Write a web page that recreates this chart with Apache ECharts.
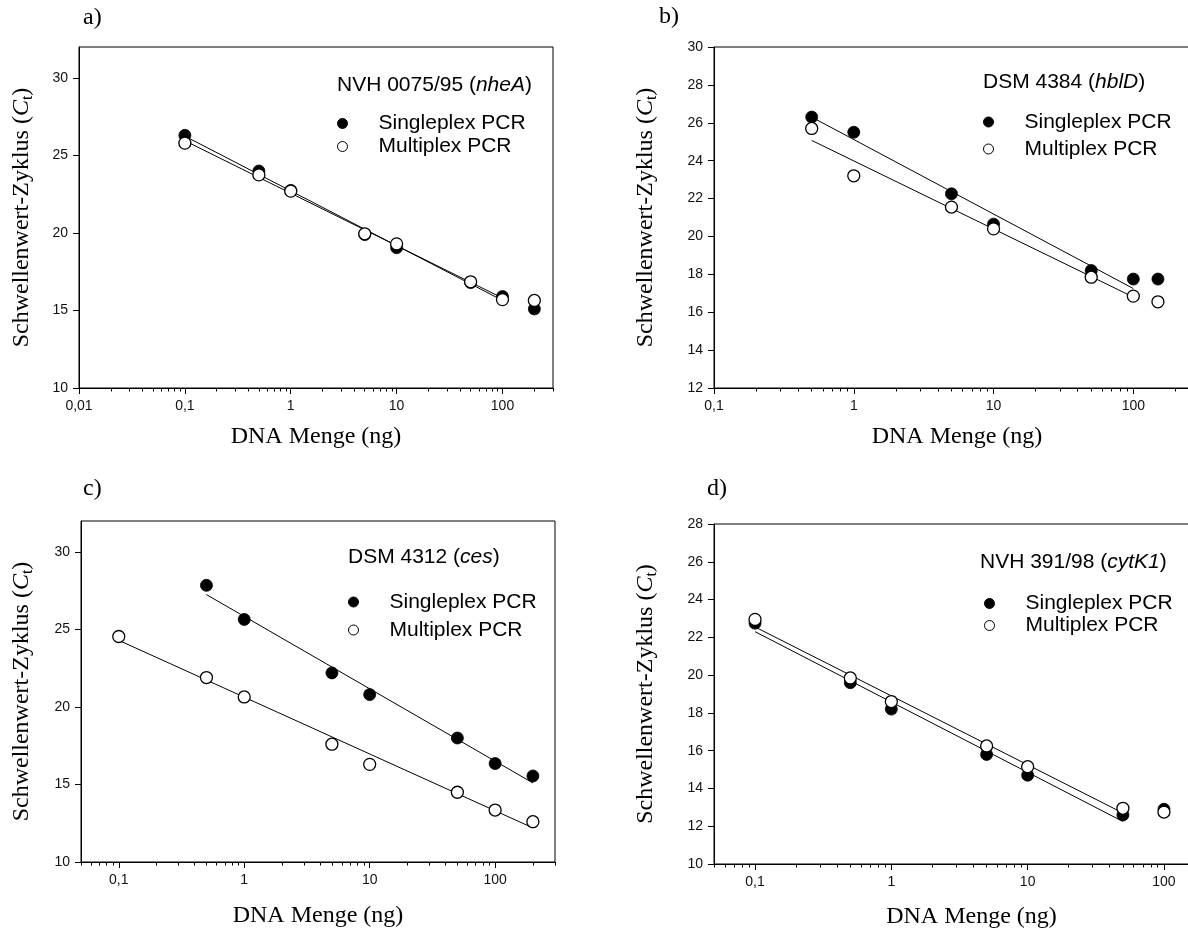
<!DOCTYPE html>
<html>
<head>
<meta charset="utf-8">
<script src="https://cdn.jsdelivr.net/npm/echarts@6/dist/echarts.min.js"></script>
<style>
  html, body { margin: 0; padding: 0; background: #fff; }
  #chart { width: 1188px; height: 933px; }
</style>
</head>
<body>
<div id="chart"></div>
<script>
// ---- Panel a) NVH 0075/95 (nheA) ----
const doseA    = [0.1, 0.5, 1, 5, 10, 50, 100, 200];
const singleA  = [26.3, 24.0, 22.75, 19.9, 19.05, 16.8, 15.9, 15.1];
const multiA   = [25.8, 23.75, 22.7, 19.95, 19.3, 16.85, 15.7, 15.65];
const fitDoseA = [0.1, 100];
const fitSingleA = [26.25, 15.65];
const fitMultiA  = [25.95, 15.8];
const xTicksA = [0.01, 0.1, 1, 10, 100];
const yTicksA = [10, 15, 20, 25, 30];

// ---- Panel b) DSM 4384 (hblD) ----
const doseB    = [0.5, 1, 5, 10, 50, 100, 150];
const singleB  = [26.3, 25.5, 22.25, 20.65, 18.2, 17.75, 17.75];
const multiB   = [25.7, 23.2, 21.55, 20.4, 17.85, 16.85, 16.55];
const fitDoseB = [0.5, 100];
const fitSingleB = [26.3, 17.25];
const fitMultiB  = [25.07, 16.8];
const xTicksB = [0.1, 1, 10, 100];
const yTicksB = [12, 14, 16, 18, 20, 22, 24, 26, 28, 30];

// ---- Panel c) DSM 4312 (ces) ----
const doseC    = [0.1, 0.5, 1, 5, 10, 50, 100, 200];
const singleC  = [null, 27.85, 25.65, 22.2, 20.8, 18.0, 16.35, 15.55];
const multiC   = [24.55, 21.9, 20.65, 17.6, 16.3, 14.5, 13.35, 12.6];
const fitDoseSingleC = [0.5, 200];
const fitSingleC = [27.25, 15.1];
const fitDoseMultiC = [0.1, 200];
const fitMultiC  = [24.3, 12.2];
const xTicksC = [0.1, 1, 10, 100];
const yTicksC = [10, 15, 20, 25, 30];

// ---- Panel d) NVH 391/98 (cytK1) ----
const doseD    = [0.1, 0.5, 1, 5, 10, 50, 100];
const singleD  = [22.75, 19.6, 18.2, 15.8, 14.7, 12.6, 12.9];
const multiD   = [22.95, 19.85, 18.6, 16.25, 15.15, 12.95, 12.75];
const fitDoseD = [0.1, 50];
const fitSingleD = [22.3, 12.25];
const fitMultiD  = [22.55, 12.7];
const xTicksD = [0.1, 1, 10, 100];
const yTicksD = [10, 12, 14, 16, 18, 20, 22, 24, 26, 28];

const seriesNames = ['Singleplex PCR', 'Multiplex PCR'];

const SANS = '"Liberation Sans", Arial, sans-serif';
const SERIF = '"Liberation Serif", "Times New Roman", serif';

function pairs(xs, ys) {
  const out = [];
  xs.forEach((x, i) => { if (ys[i] != null) out.push([x, ys[i]]); });
  return out;
}

// minor log ticks (2..9 of every decade) inside [min, max]
function minorTicks(min, max) {
  const out = [];
  for (let e = Math.floor(Math.log10(min)); e <= Math.ceil(Math.log10(max)); e++) {
    for (let k = 2; k <= 9; k++) {
      const v = +(k * Math.pow(10, e)).toPrecision(6);
      if (v >= min * 0.9999 && v <= max * 1.0001) out.push(v);
    }
  }
  return out;
}

const fmt = v => String(v).replace('.', ',');

const option = {
  animation: false,
  backgroundColor: '#fff',
  title: [], legend: [], grid: [], xAxis: [], yAxis: [], series: []
};

function addPanel(p) {
  const g = option.grid.length;
  const rect = { left: p.left, top: p.top, width: p.width, height: p.height };
  option.grid.push(Object.assign({ show: true, borderColor: '#000', borderWidth: 1,
    backgroundColor: 'transparent', outerBoundsMode: 'none', containLabel: false }, rect));
  option.grid.push(Object.assign({ show: false, outerBoundsMode: 'none', containLabel: false }, rect));

  // main log axis: decades with labels
  option.xAxis.push({
    type: 'log', logBase: 10, gridIndex: g, min: p.xMin, max: p.xMax,
    name: 'DNA Menge (ng)', nameLocation: 'middle', nameGap: p.xNameGap,
    nameTextStyle: { fontFamily: SERIF, fontSize: 24, color: '#000' },
    axisLine: { show: true, lineStyle: { color: '#000', width: 1 } },
    axisTick: { show: true, inside: false, length: 6, customValues: p.xTicks,
      lineStyle: { color: '#000', width: 1 } },
    axisLabel: { show: true, customValues: p.xTicks, formatter: fmt, margin: 11,
      fontFamily: SANS, fontSize: 14, color: '#111' },
    splitLine: { show: false }, minorTick: { show: false }, minorSplitLine: { show: false }
  });
  // overlay log axis carrying only the minor ticks
  option.xAxis.push({
    type: 'log', logBase: 10, gridIndex: g + 1, min: p.xMin, max: p.xMax,
    axisLine: { show: false },
    axisTick: { show: true, inside: false, length: 3.5, customValues: minorTicks(p.xMin, p.xMax),
      lineStyle: { color: '#000', width: 1 } },
    axisLabel: { show: false }, splitLine: { show: false }
  });

  option.yAxis.push({
    type: 'value', gridIndex: g, min: p.yMin, max: p.yMax, interval: p.yStep,
    name: '{n|Schwellenwert-Zyklus (}{i|C}{s|t}{n|)}',
    nameLocation: 'middle', nameGap: p.yNameGap, nameRotate: 90,
    nameTextStyle: { rich: {
      n: { fontFamily: SERIF, fontSize: 24, color: '#000', lineHeight: 28 },
      i: { fontFamily: SERIF, fontSize: 24, fontStyle: 'italic', color: '#000', lineHeight: 28 },
      s: { fontFamily: SERIF, fontSize: 16, color: '#000', lineHeight: 16, verticalAlign: 'bottom' }
    } },
    axisLine: { show: true, lineStyle: { color: '#000', width: 1 } },
    axisTick: { show: true, inside: false, length: 6, customValues: p.yTicks,
      lineStyle: { color: '#000', width: 1 } },
    axisLabel: { show: true, customValues: p.yTicks, margin: 11,
      fontFamily: SANS, fontSize: 14, color: '#111' },
    splitLine: { show: false }
  });
  option.yAxis.push({ type: 'value', gridIndex: g + 1, min: p.yMin, max: p.yMax, show: false });

  const xi = option.xAxis.length - 2;
  const yi = option.yAxis.length - 2;

  // regression lines
  [[p.fitDoseSingle, p.fitSingle], [p.fitDoseMulti, p.fitMulti]].forEach(([xs, ys]) => {
    option.series.push({
      type: 'line', xAxisIndex: xi, yAxisIndex: yi, data: pairs(xs, ys),
      symbol: 'none', silent: true, z: 2,
      lineStyle: { color: '#000', width: 1 }
    });
  });
  option.series.push({
    name: seriesNames[0], type: 'scatter', xAxisIndex: xi, yAxisIndex: yi,
    data: pairs(p.dose, p.single), symbol: 'circle', symbolSize: 12, z: 3,
    itemStyle: { color: '#000', borderColor: '#000', borderWidth: 0.8, opacity: 1 }
  });
  option.series.push({
    name: seriesNames[1], type: 'scatter', xAxisIndex: xi, yAxisIndex: yi,
    data: pairs(p.dose, p.multi), symbol: 'circle', symbolSize: 12, z: 4,
    itemStyle: { color: '#fff', borderColor: '#000', borderWidth: 1.3, opacity: 1 }
  });

  // panel letter
  option.title.push({
    text: p.letter, left: p.letterX, top: p.letterY, padding: 0,
    textStyle: { fontFamily: SERIF, fontSize: 24, fontWeight: 'normal', color: '#000' }
  });
  // strain / gene heading
  option.title.push({
    text: '{n|' + p.strain + ' (}{i|' + p.gene + '}{n|)}',
    left: p.headX, top: p.headY - 10.5, padding: 0,
    textStyle: { fontWeight: 'normal', rich: {
      n: { fontFamily: SANS, fontSize: 21, fontWeight: 'normal', color: '#000' },
      i: { fontFamily: SANS, fontSize: 21, fontWeight: 'normal', fontStyle: 'italic', color: '#000' }
    } }
  });
  option.legend.push({
    data: seriesNames, orient: 'vertical', selectedMode: false,
    left: p.markX - 5, top: p.row1 - 10.5, padding: 0,
    itemWidth: 62, itemHeight: 10, itemGap: p.rowGap - 21,
    itemStyle: { borderWidth: 1, opacity: 1 },
    textStyle: { fontFamily: SANS, fontSize: 21, color: '#000', lineHeight: 21 }
  });
}

addPanel({ letter: 'a)', letterX: 83, letterY: 6,
  left: 79, top: 47, width: 474, height: 341,
  xMin: 0.01, xMax: 300, yMin: 10, yMax: 32, yStep: 5,
  xTicks: xTicksA, yTicks: yTicksA, xNameGap: 37, yNameGap: 43,
  dose: doseA, single: singleA, multi: multiA,
  fitDoseSingle: fitDoseA, fitSingle: fitSingleA, fitDoseMulti: fitDoseA, fitMulti: fitMultiA,
  strain: 'NVH 0075/95', gene: 'nheA', headX: 337, headY: 85,
  markX: 342, row1: 123.5, rowGap: 23 });

addPanel({ letter: 'b)', letterX: 659, letterY: 5,
  left: 714, top: 47, width: 486, height: 341,
  xMin: 0.1, xMax: 300, yMin: 12, yMax: 30, yStep: 2,
  xTicks: xTicksB, yTicks: yTicksB, xNameGap: 37, yNameGap: 54,
  dose: doseB, single: singleB, multi: multiB,
  fitDoseSingle: fitDoseB, fitSingle: fitSingleB, fitDoseMulti: fitDoseB, fitMulti: fitMultiB,
  strain: 'DSM 4384', gene: 'hblD', headX: 983, headY: 82,
  markX: 988, row1: 122, rowGap: 27 });

addPanel({ letter: 'c)', letterX: 83, letterY: 477,
  left: 81, top: 521, width: 474, height: 341,
  xMin: 0.05, xMax: 300, yMin: 10, yMax: 32, yStep: 5,
  xTicks: xTicksC, yTicks: yTicksC, xNameGap: 42, yNameGap: 45,
  dose: doseC, single: singleC, multi: multiC,
  fitDoseSingle: fitDoseSingleC, fitSingle: fitSingleC, fitDoseMulti: fitDoseMultiC, fitMulti: fitMultiC,
  strain: 'DSM 4312', gene: 'ces', headX: 348, headY: 557,
  markX: 353, row1: 602, rowGap: 28 });

addPanel({ letter: 'd)', letterX: 707, letterY: 477,
  left: 714, top: 524, width: 515, height: 340,
  xMin: 0.05, xMax: 300, yMin: 10, yMax: 28, yStep: 2,
  xTicks: xTicksD, yTicks: yTicksD, xNameGap: 41, yNameGap: 54,
  dose: doseD, single: singleD, multi: multiD,
  fitDoseSingle: fitDoseD, fitSingle: fitSingleD, fitDoseMulti: fitDoseD, fitMulti: fitMultiD,
  strain: 'NVH 391/98', gene: 'cytK1', headX: 980, headY: 562,
  markX: 989, row1: 603.5, rowGap: 22 });

const chart = echarts.init(document.getElementById('chart'), null, { renderer: 'canvas' });
chart.setOption(option);
</script>
</body>
</html>
